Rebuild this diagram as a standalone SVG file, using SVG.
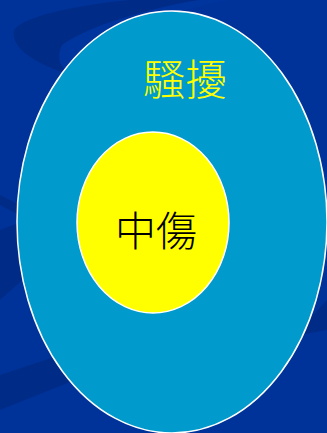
<svg xmlns="http://www.w3.org/2000/svg" width="327" height="433" viewBox="0 0 327 433">
<style>
.bg{fill:#003399}
.dk{fill:#002C88}
.lt{fill:#00359E}
.ell{stroke:#FFFFFF;stroke-width:1.5}
.lbl{font-family:"Noto Sans CJK TC","Noto Sans CJK SC",sans-serif;text-anchor:middle;font-weight:300}
</style>
<rect class="bg" x="0" y="0" width="327" height="433"/>
<g id="background">
<path class="dk" d="M130,0 C80,5 25,15 14,30 C10,50 40,65 70,75 L95,80 L110,40 C120,20 160,5 200,0 Z"/>
<path class="lt" d="M200,0 C150,8 90,25 62,45 C55,60 62,70 72,74 L110,60 C130,30 170,10 230,0 Z"/>
<path class="dk" d="M0,195 L30,210 L25,218 L0,205 Z"/>
<path class="dk" d="M0,230 L40,215 L45,260 L0,300 Z"/>
<path class="dk" d="M0,375 L90,345 L100,370 L0,410 Z"/>
<path class="dk" d="M290,340 L327,300 L327,330 L300,335 Z"/>
</g>
<g id="outer">
<ellipse class="ell" cx="172" cy="222" rx="155" ry="211" fill="#009ACC"/>
<text class="lbl" x="185" y="95" font-size="42" fill="#FFFF00">騷擾</text>
</g>
<g id="inner">
<ellipse class="ell" cx="153" cy="222.5" rx="76" ry="90.5" fill="#FFFF00"/>
<text class="lbl" x="156" y="246" font-size="41" fill="#000000">中傷</text>
</g>
<g id="connectors"/>
</svg>
